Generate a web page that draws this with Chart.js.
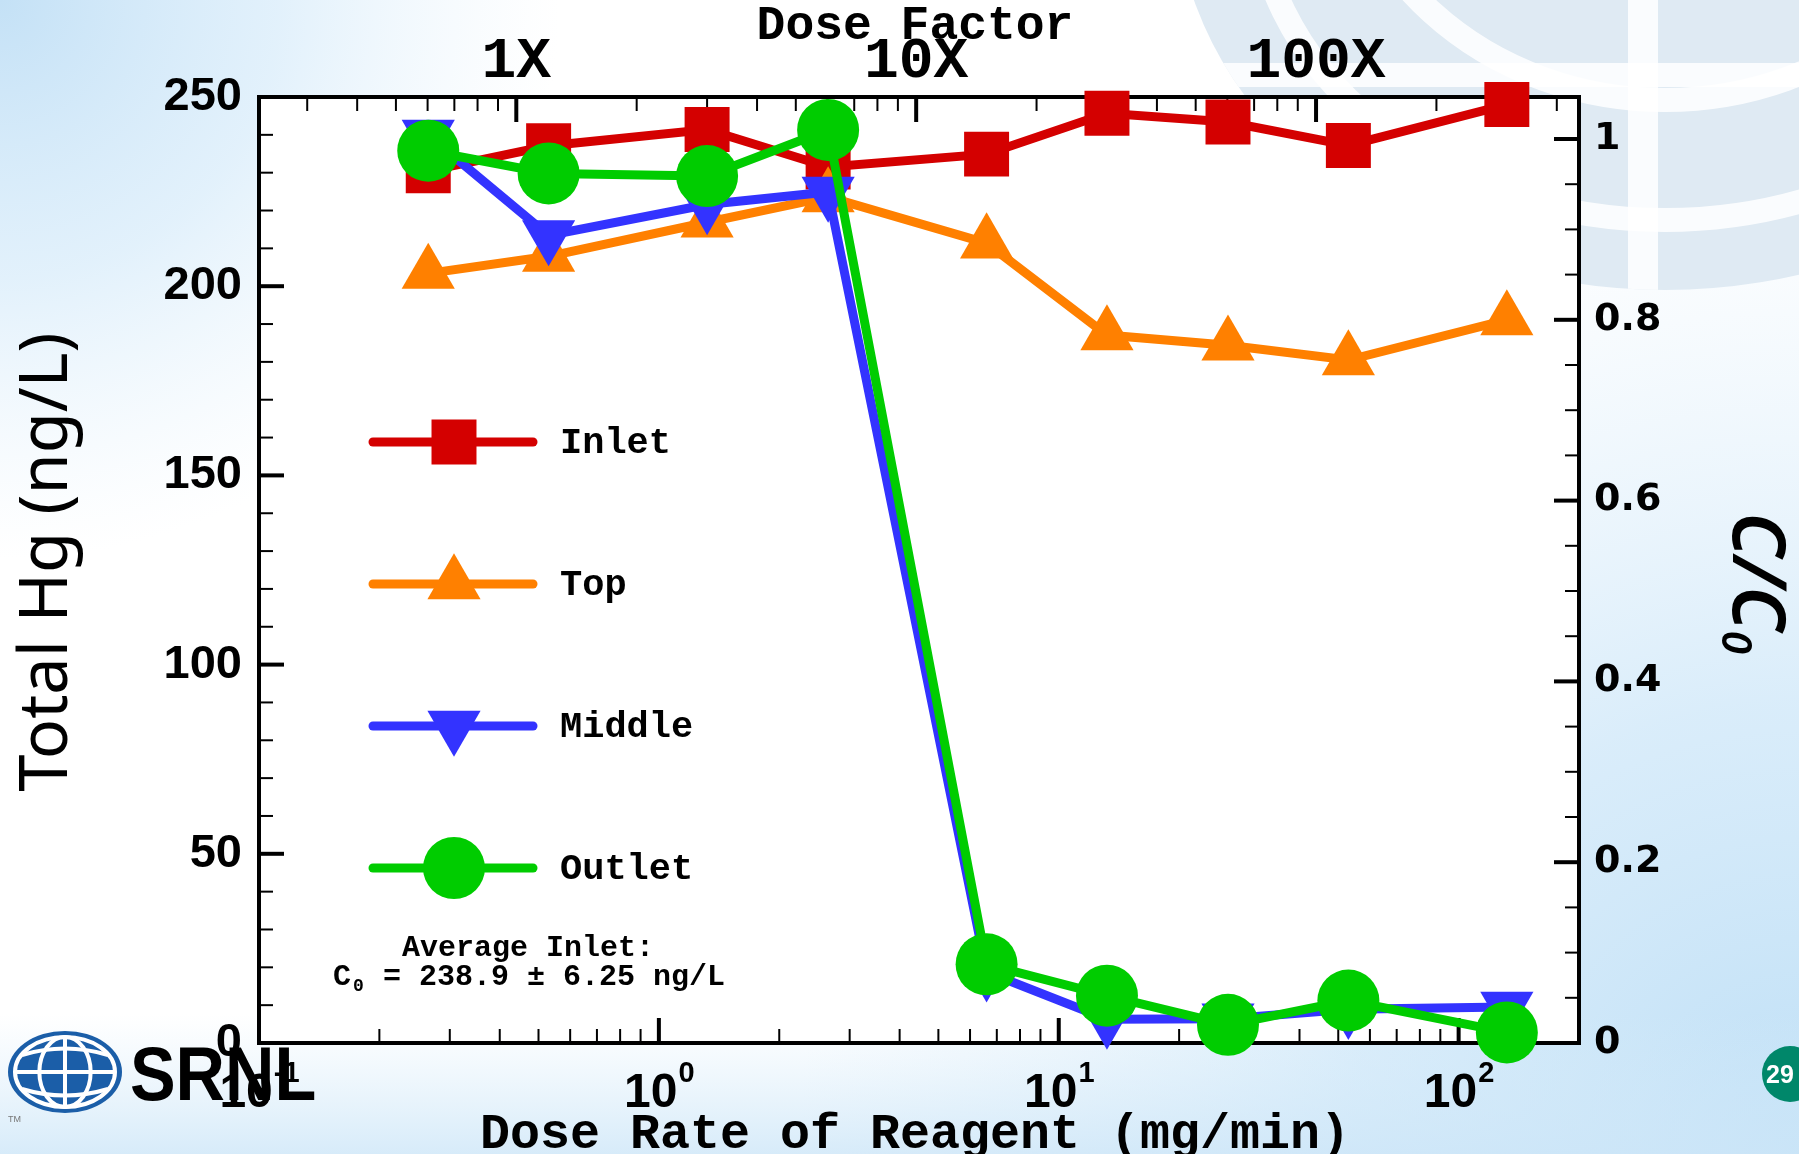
<!DOCTYPE html>
<html>
<head>
<meta charset="utf-8">
<title>Total Hg vs dose rate</title>
<script src="https://cdn.jsdelivr.net/npm/chart.js@4.4.0/dist/chart.umd.min.js"></script>
<style>
  html, body { margin: 0; padding: 0; width: 1799px; height: 1154px; overflow: hidden; background: #fff; }
  canvas { display: block; }
</style>
</head>
<body>
<canvas id="hgChart" width="1799" height="1154"></canvas>
<script>
// dose rate of reagent (mg/min) for each run
const doseRate = [0.265, 0.53, 1.32, 2.65, 6.6, 13.2, 26.5, 53, 132];
// total Hg (ng/L) at each sampling point
const inletHg  = [230.5, 237.1, 241.4, 231.5, 234.9, 245.7, 243.4, 237.2, 248.0];
const topHg    = [203.4, 207.9, 216.9, 223.6, 211.4, 187.1, 184.4, 180.5, 191.1];
const middleHg = [239.9, 213.4, 221.6, 224.9, 18.8, 6.3, 6.4, 8.9, 9.5];
const outletHg = [235.8, 229.8, 229.1, 241.3, 20.8, 12.5, 4.8, 11.2, 2.8];
const seriesNames = ['Inlet', 'Top', 'Middle', 'Outlet'];

const hgTicks = [0, 50, 100, 150, 200, 250];
const ratioTicks = [0, 0.2, 0.4, 0.6, 0.8, 1];
const rateTicks = [0.1, 1, 10, 100];
const factorTicks = [1, 10, 100];

const c0 = 238.9;      // average inlet, ng/L
const c0Sd = 6.25;
const oneX = 0.44;     // mg/min for a dose factor of 1X

const RATE_MIN = 0.1, RATE_MAX = 200, HG_MAX = 250;
const W = 1799, H = 1154;

Chart.defaults.font.family = '"Liberation Sans", Arial, sans-serif';
Chart.defaults.color = '#000';

function logSteps(min, max) {
  const out = [];
  for (let e = Math.floor(Math.log10(min)); e <= Math.ceil(Math.log10(max)); e++) {
    for (let m = 1; m <= 9; m++) {
      const v = m * Math.pow(10, e);
      if (v >= min * 0.999 && v <= max * 1.001) out.push({ v, major: m === 1 });
    }
  }
  return out;
}

function linSteps(max, step, majorEvery) {
  const out = [];
  for (let i = 0; i * step <= max + 1e-9; i++) out.push({ v: i * step, major: i % majorEvery === 0 });
  return out;
}

function drawBackground(ctx, area) {
  ctx.fillStyle = '#ffffff';
  ctx.fillRect(0, 0, W, H);

  let g = ctx.createRadialGradient(0, 0, 0, 0, 0, 560);
  g.addColorStop(0, 'rgba(196,225,246,1)');
  g.addColorStop(0.5, 'rgba(214,235,250,0.7)');
  g.addColorStop(1, 'rgba(230,243,252,0)');
  ctx.fillStyle = g;
  ctx.fillRect(0, 0, W, H);

  g = ctx.createRadialGradient(W, H, 0, W, H, 1000);
  g.addColorStop(0, 'rgba(190,223,246,1)');
  g.addColorStop(0.45, 'rgba(208,232,249,0.8)');
  g.addColorStop(1, 'rgba(225,240,251,0)');
  ctx.fillStyle = g;
  ctx.fillRect(0, 0, W, H);

  g = ctx.createLinearGradient(0, H - 140, 0, H);
  g.addColorStop(0, 'rgba(215,236,250,0)');
  g.addColorStop(1, 'rgba(205,230,248,0.8)');
  ctx.fillStyle = g;
  ctx.fillRect(0, H - 140, W, 140);

  // globe watermark, top right
  ctx.save();
  ctx.beginPath();
  ctx.ellipse(1665, -110, 490, 400, 0, 0, Math.PI * 2);
  ctx.fillStyle = '#dfeaf3';
  ctx.fill();
  ctx.clip();
  ctx.strokeStyle = 'rgba(255,255,255,0.85)';
  ctx.lineWidth = 24;
  ctx.beginPath(); ctx.ellipse(1665, -110, 410, 330, 0, 0, Math.PI * 2); ctx.stroke();
  ctx.beginPath(); ctx.ellipse(1665, -200, 330, 300, 0, 0, Math.PI * 2); ctx.stroke();
  ctx.beginPath(); ctx.moveTo(1200, 75); ctx.lineTo(1799, 75); ctx.stroke();
  ctx.lineWidth = 30;
  ctx.beginPath(); ctx.moveTo(1643, -10); ctx.lineTo(1643, 300); ctx.stroke();
  ctx.restore();

  // plotting region is plain white
  ctx.fillStyle = '#ffffff';
  ctx.fillRect(area.left, area.top, area.right - area.left, area.bottom - area.top);
}

function drawLogo(ctx) {
  const cx = 65, cy = 1072, rx = 57, ry = 41;
  ctx.save();
  ctx.fillStyle = '#1b5ea8';
  ctx.beginPath(); ctx.ellipse(cx, cy, rx, ry, 0, 0, Math.PI * 2); ctx.fill();
  ctx.strokeStyle = '#ffffff';
  ctx.lineWidth = 4;
  ctx.beginPath(); ctx.ellipse(cx, cy, rx - 7, ry - 6, 0, 0, Math.PI * 2); ctx.stroke();
  ctx.beginPath(); ctx.ellipse(cx, cy, rx * 0.45, ry - 6, 0, 0, Math.PI * 2); ctx.stroke();
  ctx.beginPath(); ctx.moveTo(cx, cy - ry + 6); ctx.lineTo(cx, cy + ry - 6); ctx.stroke();
  ctx.beginPath(); ctx.moveTo(cx - rx + 7, cy); ctx.lineTo(cx + rx - 7, cy); ctx.stroke();
  ctx.beginPath();
  ctx.moveTo(cx - rx + 14, cy - 17); ctx.quadraticCurveTo(cx, cy - 30, cx + rx - 14, cy - 17);
  ctx.moveTo(cx - rx + 14, cy + 17); ctx.quadraticCurveTo(cx, cy + 30, cx + rx - 14, cy + 17);
  ctx.stroke();
  ctx.fillStyle = '#000';
  ctx.font = 'bold 76px "Liberation Sans"';
  ctx.textAlign = 'left';
  ctx.textBaseline = 'alphabetic';
  ctx.translate(130, 1100);
  ctx.scale(0.9, 1);
  ctx.fillText('SRNL', 0, 0);
  ctx.restore();
  ctx.save();
  ctx.fillStyle = '#777';
  ctx.font = '9px "Liberation Sans"';
  ctx.fillText('TM', 8, 1122);
  ctx.restore();
}

function drawMarker(ctx, ds, x, y) {
  ctx.save();
  ctx.fillStyle = ds.pointBackgroundColor;
  ctx.strokeStyle = ds.pointBackgroundColor;
  Chart.helpers.drawPoint(ctx, {
    pointStyle: ds.pointStyle,
    rotation: ds.pointRotation || 0,
    radius: ds.pointRadius,
    borderWidth: 0
  }, x, y);
  ctx.restore();
}

const hgPlugin = {
  id: 'hgFrame',
  beforeDraw(chart) {
    drawBackground(chart.ctx, chart.chartArea);
  },
  beforeDatasetsDraw(chart) {
    const ctx = chart.ctx;
    const a = chart.chartArea;
    const { x, x2, y, y2 } = chart.scales;
    const MAJOR = 25, MINOR = 14;
    ctx.save();
    ctx.strokeStyle = '#000';
    ctx.lineCap = 'butt';
    const tick = (x0, y0, x1, y1, major) => {
      ctx.lineWidth = major ? 4 : 2;
      ctx.beginPath(); ctx.moveTo(x0, y0); ctx.lineTo(x1, y1); ctx.stroke();
    };
    logSteps(RATE_MIN, RATE_MAX).forEach(t => {
      const px = x.getPixelForValue(t.v);
      tick(px, a.bottom, px, a.bottom - (t.major ? MAJOR : MINOR), t.major);
    });
    logSteps(RATE_MIN / oneX, RATE_MAX / oneX).forEach(t => {
      const px = x2.getPixelForValue(t.v);
      tick(px, a.top, px, a.top + (t.major ? MAJOR : MINOR), t.major);
    });
    linSteps(HG_MAX, 10, 5).forEach(t => {
      const py = y.getPixelForValue(t.v);
      tick(a.left, py, a.left + (t.major ? MAJOR : MINOR), py, t.major);
    });
    linSteps(1.0, 0.05, 4).forEach(t => {
      const py = y2.getPixelForValue(t.v);
      tick(a.right, py, a.right - (t.major ? MAJOR : MINOR), py, t.major);
    });
    ctx.lineWidth = 4;
    ctx.lineJoin = 'miter';
    ctx.strokeRect(a.left, a.top, a.right - a.left, a.bottom - a.top);
    ctx.restore();
  },
  afterDraw(chart) {
    const ctx = chart.ctx;
    const a = chart.chartArea;
    const { x, x2 } = chart.scales;
    ctx.save();
    ctx.fillStyle = '#000';
    ctx.textBaseline = 'alphabetic';

    // top axis: dose factor
    ctx.font = 'bold 58px "Liberation Mono"';
    ctx.textAlign = 'center';
    factorTicks.forEach(v => ctx.fillText(v + 'X', x2.getPixelForValue(v), 77));
    ctx.font = 'bold 48px "Liberation Mono"';
    ctx.fillText('Dose Factor', (a.left + a.right) / 2 - 4, 39);

    // bottom axis: powers of ten
    ctx.textAlign = 'left';
    rateTicks.forEach(v => {
      const e = String(Math.round(Math.log10(v)));
      ctx.font = 'bold 48px "Liberation Sans"';
      const wb = ctx.measureText('10').width;
      ctx.font = 'bold 29px "Liberation Sans"';
      const we = ctx.measureText(e).width;
      const x0 = x.getPixelForValue(v) - (wb + we) / 2;
      ctx.font = 'bold 48px "Liberation Sans"';
      ctx.fillText('10', x0, 1107);
      ctx.font = 'bold 29px "Liberation Sans"';
      ctx.fillText(e, x0 + wb + 1, 1082);
    });
    ctx.textAlign = 'center';
    ctx.font = 'bold 50px "Liberation Mono"';
    ctx.fillText('Dose Rate of Reagent (mg/min)', (a.left + a.right) / 2 - 4, 1148);

    // left title, sized to span the axis
    ctx.save();
    ctx.translate(48, 562);
    ctx.rotate(-Math.PI / 2);
    let fs = 56;
    ctx.font = fs + 'px "Noto Sans"';
    fs = fs * 459 / ctx.measureText('Total Hg (ng/L)').width;
    ctx.font = fs.toFixed(1) + 'px "Noto Sans"';
    ctx.textBaseline = 'middle';
    ctx.fillText('Total Hg (ng/L)', 0, 0);
    ctx.restore();

    // right title C/C0
    ctx.save();
    ctx.translate(1754, 512);
    ctx.rotate(Math.PI / 2);
    ctx.textAlign = 'left';
    ctx.textBaseline = 'middle';
    ctx.font = 'italic 600 74px "Noto Sans"';
    ctx.fillText('C/C', 0, 0);
    const wc = ctx.measureText('C/C').width;
    ctx.font = 'italic 600 42px "Noto Sans"';
    ctx.fillText('0', wc, 20);
    ctx.restore();

    // legend inside the plot
    const rows = [442, 584, 726, 868];
    chart.data.datasets.forEach((ds, i) => {
      const ry = rows[i];
      ctx.save();
      ctx.strokeStyle = ds.borderColor;
      ctx.lineWidth = ds.borderWidth;
      ctx.lineCap = 'round';
      ctx.beginPath(); ctx.moveTo(373, ry); ctx.lineTo(533, ry); ctx.stroke();
      ctx.restore();
      drawMarker(ctx, ds, 454, ry);
      ctx.font = 'bold 37px "Liberation Mono"';
      ctx.textAlign = 'left';
      ctx.fillText(ds.label, 560, ry + 11);
    });

    // average inlet note
    ctx.font = 'bold 30px "Liberation Mono"';
    ctx.textAlign = 'center';
    ctx.fillText('Average Inlet:', 528, 956);
    ctx.textAlign = 'left';
    ctx.fillText('C', 333, 985);
    ctx.font = 'bold 18px "Liberation Mono"';
    ctx.fillText('0', 353, 991);
    ctx.font = 'bold 30px "Liberation Mono"';
    ctx.fillText(' = ' + c0.toFixed(1) + ' \u00b1 ' + c0Sd.toFixed(2) + ' ng/L', 365, 985);

    // page number badge
    ctx.fillStyle = '#00876a';
    ctx.beginPath(); ctx.arc(1790, 1074, 28, 0, Math.PI * 2); ctx.fill();
    ctx.fillStyle = '#fff';
    ctx.font = 'bold 25px "Liberation Sans"';
    ctx.fillText('29', 1766, 1083);
    ctx.restore();

    drawLogo(ctx);
  }
};

const colors = { inlet: '#d40000', top: '#ff8000', middle: '#3333ff', outlet: '#00cc00' };

function series(label, values, color, style, radius, rotation, order) {
  return {
    label,
    data: values.map((v, i) => ({ x: doseRate[i], y: v })),
    borderColor: color,
    backgroundColor: color,
    pointBackgroundColor: color,
    pointBorderColor: color,
    pointBorderWidth: 0,
    borderWidth: 9,
    pointStyle: style,
    pointRadius: radius,
    pointRotation: rotation,
    tension: 0,
    clip: false,
    order,
    xAxisID: 'x',
    yAxisID: 'y'
  };
}

const ctx = document.getElementById('hgChart').getContext('2d');
const hgChart = new Chart(ctx, {
  type: 'line',
  data: {
    datasets: [
      series(seriesNames[0], inletHg, colors.inlet, 'rect', 31.8, 0, 4),
      series(seriesNames[1], topHg, colors.top, 'triangle', 30.7, 0, 3),
      series(seriesNames[2], middleHg, colors.middle, 'triangle', 30.7, 180, 2),
      series(seriesNames[3], outletHg, colors.outlet, 'circle', 31, 0, 1)
    ]
  },
  options: {
    responsive: false,
    animation: false,
    events: [],
    layout: { padding: 0 },
    plugins: { legend: { display: false }, tooltip: { enabled: false }, title: { display: false } },
    scales: {
      x: {
        type: 'logarithmic', position: 'bottom', min: RATE_MIN, max: RATE_MAX,
        grid: { display: false }, border: { display: false }, ticks: { display: false },
        afterFit: s => { s.height = 111; }
      },
      x2: {
        type: 'logarithmic', position: 'top', min: RATE_MIN / oneX, max: RATE_MAX / oneX,
        grid: { display: false }, border: { display: false }, ticks: { display: false },
        afterFit: s => { s.height = 97; }
      },
      y: {
        position: 'left', min: 0, max: HG_MAX,
        grid: { display: false }, border: { display: false },
        afterBuildTicks: s => { s.ticks = hgTicks.map(v => ({ value: v })); },
        ticks: {
          padding: 9, color: '#000',
          font: { family: '"Liberation Sans"', weight: 'bold', size: 47 },
          callback: v => String(v)
        },
        afterFit: s => { s.width = 259; }
      },
      y2: {
        position: 'right', min: 0, max: HG_MAX / c0,
        grid: { display: false }, border: { display: false },
        afterBuildTicks: s => { s.ticks = ratioTicks.map(v => ({ value: v })); },
        ticks: {
          padding: 7, color: '#000',
          font: { family: '"DejaVu Sans"', weight: 'bold', size: 38 },
          callback: v => String(Math.round(v * 10) / 10)
        },
        afterFit: s => { s.width = 220; }
      }
    }
  },
  plugins: [hgPlugin]
});
</script>
</body>
</html>
